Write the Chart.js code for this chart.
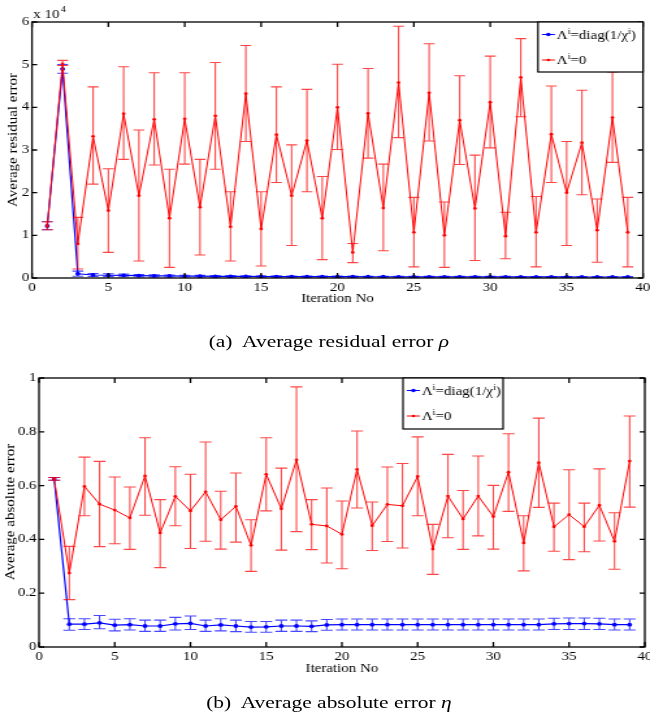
<!DOCTYPE html>
<html>
<head>
<meta charset="utf-8">
<script src="https://cdn.jsdelivr.net/npm/chart.js@4.4.1/dist/chart.umd.min.js"></script>
<style>
html, body { margin: 0; padding: 0; background: #fff; }
#page { position: absolute; left: 0; top: 0; width: 500px; height: 723px; transform: scaleX(1.3); transform-origin: 0 0; }
canvas { position: absolute; left: 0; }
.cap { position: absolute; left: 3px; width: 500px; text-align: center; font: 16.5px "Liberation Serif", serif; line-height: 20px; color: #000; }
</style>
</head>
<body>
<div id="page">
  <canvas id="c1" width="500" height="312" style="top:0"></canvas>
  <div class="cap" style="top:332px">(a)&nbsp; Average residual error <i>ρ</i></div>
  <canvas id="c2" width="500" height="320" style="top:360px"></canvas>
  <div class="cap" style="top:693px">(b)&nbsp; Average absolute error <i>η</i></div>
</div>
<script>
const iterations = [1,2,3,4,5,6,7,8,9,10,11,12,13,14,15,16,17,18,19,20,21,22,23,24,25,26,27,28,29,30,31,32,33,34,35,36,37,38,39];
const xTicks = [0,5,10,15,20,25,30,35,40];

// (a) residual error, in units of 10^4
const resTicks = [0,1,2,3,4,5,6];
const resBlue   = [1.22,4.90,0.10,0.070,0.065,0.060,0.055,0.050,0.048,0.045,0.042,0.040,0.038,0.036,0.035,0.034,0.033,0.032,0.031,0.030,0.030,0.029,0.029,0.028,0.028,0.027,0.027,0.027,0.026,0.026,0.026,0.025,0.025,0.025,0.025,0.024,0.024,0.024,0.024];
const resBlueLo = [1.13,4.80,0.04,0.035,0.032,0.030,0.028,0.026,0.025,0.024,0.022,0.021,0.020,0.019,0.019,0.018,0.018,0.017,0.017,0.017,0.016,0.016,0.016,0.016,0.015,0.015,0.015,0.015,0.015,0.015,0.015,0.014,0.014,0.014,0.014,0.014,0.014,0.014,0.014];
const resBlueHi = [1.32,5.00,0.16,0.105,0.098,0.090,0.082,0.074,0.071,0.066,0.062,0.059,0.056,0.053,0.051,0.050,0.048,0.047,0.045,0.043,0.044,0.042,0.042,0.040,0.041,0.039,0.039,0.039,0.037,0.037,0.037,0.036,0.036,0.036,0.036,0.034,0.034,0.034,0.034];
const resRed   = [1.22,5.02,0.80,3.32,1.58,3.85,1.93,3.72,1.40,3.73,1.66,3.80,1.20,4.32,1.15,3.36,1.93,3.22,1.40,4.00,0.60,3.86,1.64,4.58,1.07,4.34,1.00,3.70,1.63,4.12,0.98,4.70,1.07,3.37,2.00,3.17,1.12,3.76,1.07];
const resRedLo = [1.13,4.98,0.21,2.20,0.60,2.78,0.40,2.65,0.25,2.67,0.54,2.55,0.40,3.20,0.28,2.24,0.76,2.02,0.43,3.01,0.36,2.81,0.64,3.29,0.26,3.21,0.25,2.66,0.41,3.05,0.45,3.78,0.26,2.24,0.76,1.95,0.37,2.71,0.26];
const resRedHi = [1.32,5.10,1.42,4.48,2.56,4.95,3.47,4.81,2.55,4.81,2.78,5.05,2.02,5.45,2.02,4.48,3.12,4.42,2.38,5.01,0.81,4.91,2.67,5.90,1.89,5.49,1.78,4.74,2.88,5.20,1.54,5.61,1.91,4.50,3.20,4.40,1.85,4.83,1.89];

// (b) absolute error
const absTicks = [0,0.2,0.4,0.6,0.8,1];
const absTickLabels = ['0','0.2','0.4','0.6','0.8','1'];
const absBlue   = [0.625,0.085,0.085,0.090,0.081,0.083,0.078,0.078,0.086,0.088,0.078,0.082,0.078,0.074,0.075,0.078,0.078,0.077,0.082,0.083,0.083,0.083,0.083,0.083,0.083,0.083,0.083,0.083,0.083,0.083,0.083,0.083,0.083,0.086,0.087,0.087,0.086,0.083,0.083];
const absBlueLo = [0.620,0.062,0.065,0.068,0.060,0.063,0.058,0.058,0.063,0.065,0.058,0.060,0.057,0.055,0.055,0.058,0.058,0.057,0.062,0.063,0.063,0.063,0.063,0.063,0.063,0.063,0.063,0.063,0.063,0.063,0.063,0.063,0.063,0.065,0.065,0.065,0.065,0.063,0.063];
const absBlueHi = [0.630,0.105,0.105,0.117,0.103,0.105,0.100,0.100,0.110,0.115,0.100,0.105,0.100,0.095,0.095,0.100,0.100,0.097,0.102,0.104,0.104,0.104,0.104,0.104,0.104,0.104,0.104,0.104,0.104,0.104,0.104,0.104,0.104,0.107,0.108,0.108,0.107,0.104,0.104];
const absRed   = [0.625,0.275,0.597,0.531,0.509,0.480,0.636,0.424,0.560,0.506,0.577,0.473,0.523,0.378,0.642,0.514,0.696,0.456,0.450,0.419,0.660,0.451,0.530,0.525,0.634,0.364,0.561,0.476,0.561,0.485,0.650,0.387,0.685,0.447,0.492,0.447,0.527,0.393,0.691];
const absRedLo = [0.620,0.176,0.488,0.373,0.384,0.363,0.490,0.295,0.451,0.366,0.393,0.364,0.390,0.281,0.506,0.360,0.429,0.362,0.312,0.291,0.517,0.359,0.392,0.368,0.488,0.270,0.406,0.363,0.413,0.364,0.504,0.283,0.519,0.356,0.325,0.354,0.394,0.289,0.520];
const absRedHi = [0.630,0.374,0.706,0.690,0.632,0.595,0.778,0.548,0.670,0.642,0.762,0.579,0.647,0.473,0.778,0.665,0.967,0.548,0.591,0.543,0.803,0.539,0.669,0.682,0.781,0.456,0.716,0.582,0.710,0.601,0.793,0.488,0.851,0.535,0.659,0.535,0.662,0.499,0.859];

const BLUE = '#0000ff', RED = '#ff0000';
const FONT = '"Liberation Serif", "Times New Roman", serif';

// label pieces: [text, superscript?]
const blueLabel = [['Λ', false], ['i', true], ['=diag(1/χ', false], ['i', true], [')', false]];
const redLabel = [['Λ', false], ['i', true], ['=0', false]];

function drawRich(ctx, x, y, parts) {
  parts.forEach(([t, sup]) => {
    ctx.font = (sup ? '8px ' : '11.5px ') + FONT;
    ctx.fillText(t, x, sup ? y - 4 : y);
    x += ctx.measureText(t).width;
  });
}

// error bars, box, inward ticks, legend, axis titles (matlab look)
const matlabFrame = {
  id: 'matlabFrame',
  afterDatasetDraw(chart, args, opts) {
    const ds = chart.data.datasets[args.index];
    const xs = chart.scales.x, ys = chart.scales.y, ctx = chart.ctx;
    ctx.save();
    ctx.strokeStyle = ds.errColor;
    ctx.lineWidth = 1.1;
    ctx.beginPath();
    ds.errLo.forEach((lo, i) => {
      const px = xs.getPixelForValue(iterations[i]);
      const pl = ys.getPixelForValue(lo), ph = ys.getPixelForValue(ds.errHi[i]);
      ctx.moveTo(px, pl); ctx.lineTo(px, ph);
      ctx.moveTo(px - opts.cap, pl); ctx.lineTo(px + opts.cap, pl);
      ctx.moveTo(px - opts.cap, ph); ctx.lineTo(px + opts.cap, ph);
    });
    ctx.stroke();
    ctx.restore();
  },
  afterDraw(chart, args, opts) {
    const ctx = chart.ctx, a = chart.chartArea;
    const xs = chart.scales.x, ys = chart.scales.y;
    ctx.save();
    ctx.strokeStyle = '#000';
    ctx.lineWidth = 1.3;
    ctx.strokeRect(a.left, a.top, a.right - a.left, a.bottom - a.top);
    ctx.beginPath();
    xs.ticks.forEach(t => {
      const p = xs.getPixelForValue(t.value);
      ctx.moveTo(p, a.bottom); ctx.lineTo(p, a.bottom - 5);
      ctx.moveTo(p, a.top); ctx.lineTo(p, a.top + 5);
    });
    ys.ticks.forEach(t => {
      const p = ys.getPixelForValue(t.value);
      ctx.moveTo(a.left, p); ctx.lineTo(a.left + 4, p);
      ctx.moveTo(a.right, p); ctx.lineTo(a.right - 4, p);
    });
    ctx.stroke();

    // legend
    const lx = a.left + opts.legend.x, ly = a.top, lw = opts.legend.w, lh = opts.legend.h;
    ctx.fillStyle = '#fff';
    ctx.fillRect(lx, ly, lw, lh);
    ctx.lineWidth = 1.2;
    ctx.strokeRect(lx, ly, lw, lh);
    [[BLUE, blueLabel, 12.5, 1.8], [RED, redLabel, 38, 1.3]].forEach(([c, parts, dy, r]) => {
      const yy = ly + dy;
      ctx.strokeStyle = c; ctx.fillStyle = c; ctx.lineWidth = 1;
      ctx.beginPath(); ctx.moveTo(lx + 3, yy); ctx.lineTo(lx + 13, yy); ctx.stroke();
      ctx.beginPath(); ctx.arc(lx + 8, yy, r, 0, Math.PI * 2); ctx.fill();
      ctx.fillStyle = '#000';
      ctx.textBaseline = 'middle';
      drawRich(ctx, lx + 14.5, yy + 1, parts);
    });

    // axis titles
    ctx.fillStyle = '#000';
    ctx.textAlign = 'center';
    ctx.textBaseline = 'middle';
    ctx.font = '11.5px ' + FONT;
    ctx.fillText('Iteration No', (a.left + a.right) / 2, opts.xTitleY);
    ctx.save();
    ctx.translate(opts.yTitleX, opts.yTitleY);
    ctx.rotate(-Math.PI / 2);
    ctx.scale(1.5, 1);
    ctx.font = '10px ' + FONT;
    ctx.fillText(opts.yTitle, 0, 0);
    ctx.restore();

    if (opts.exponent) {
      ctx.textAlign = 'left';
      ctx.textBaseline = 'alphabetic';
      ctx.font = '11.5px ' + FONT;
      ctx.fillText('x 10', a.left + 1, a.top - 4);
      const w = ctx.measureText('x 10').width;
      ctx.font = '8px ' + FONT;
      ctx.fillText('4', a.left + 1 + w + 1, a.top - 10);
    }
    ctx.restore();
  }
};

function makeChart(id, cfg) {
  const pts = arr => iterations.map((v, i) => ({ x: v, y: arr[i] }));
  const tickFont = { family: FONT, size: 11.5 };
  return new Chart(document.getElementById(id), {
    type: 'line',
    data: {
      datasets: [
        { label: 'Λi=0', data: pts(cfg.red), borderColor: RED, backgroundColor: RED, borderWidth: 1,
          pointRadius: 1.4, pointBorderWidth: 0, tension: 0, order: 0,
          errLo: cfg.redLo, errHi: cfg.redHi, errColor: 'rgba(255,0,0,0.72)' },
        { label: 'Λi=diag(1/χi)', data: pts(cfg.blue), borderColor: BLUE, backgroundColor: BLUE, borderWidth: 1.2,
          pointRadius: 1.9, pointBorderWidth: 0, tension: 0, order: 1,
          errLo: cfg.blueLo, errHi: cfg.blueHi, errColor: 'rgba(0,0,255,0.72)' }
      ]
    },
    options: {
      responsive: false,
      animation: false,
      devicePixelRatio: 1,
      layout: { padding: { top: cfg.top, right: cfg.right, left: 0, bottom: 0 } },
      plugins: {
        legend: { display: false },
        tooltip: { enabled: false },
        matlabFrame: cfg.frame
      },
      scales: {
        x: {
          type: 'linear', min: 0, max: 40,
          grid: { display: false, drawTicks: false }, border: { display: false },
          ticks: { padding: 3, font: tickFont, color: '#000', maxRotation: 0, autoSkip: false },
          afterBuildTicks: s => { s.ticks = xTicks.map(v => ({ value: v })); },
          afterFit: s => { s.height = cfg.xHeight; s.paddingLeft = 0; s.paddingRight = 0; }
        },
        y: {
          type: 'linear', min: 0, max: cfg.ticks[cfg.ticks.length - 1],
          grid: { display: false, drawTicks: false }, border: { display: false },
          ticks: { padding: 2, font: tickFont, color: '#000', autoSkip: false,
                   callback: (v, i) => cfg.tickLabels[i] },
          afterBuildTicks: s => { s.ticks = cfg.ticks.map(v => ({ value: v })); },
          afterFit: s => { s.width = cfg.left; s.paddingTop = 0; s.paddingBottom = 0; }
        }
      }
    },
    plugins: [matlabFrame]
  });
}

makeChart('c1', {
  red: resRed, redLo: resRedLo, redHi: resRedHi,
  blue: resBlue, blueLo: resBlueLo, blueHi: resBlueHi,
  ticks: resTicks, tickLabels: resTicks.map(String),
  top: 22, right: 5.4, left: 24.6, xHeight: 34,
  frame: { cap: 4.2, legend: { x: 389.2, w: 80.8, h: 50 }, xTitleY: 299, yTitleX: 10, yTitleY: 140,
           yTitle: 'Average residual error', exponent: true }
});

makeChart('c2', {
  red: absRed, redLo: absRedLo, redHi: absRedHi,
  blue: absBlue, blueLo: absBlueLo, blueHi: absBlueHi,
  ticks: absTicks, tickLabels: absTickLabels,
  top: 18, right: 2.3, left: 30, xHeight: 33,
  frame: { cap: 4.6, legend: { x: 280, w: 77, h: 51 }, xTitleY: 309, yTitleX: 8.5, yTitleY: 152,
           yTitle: 'Average absolute error', exponent: false }
});
</script>
</body>
</html>
